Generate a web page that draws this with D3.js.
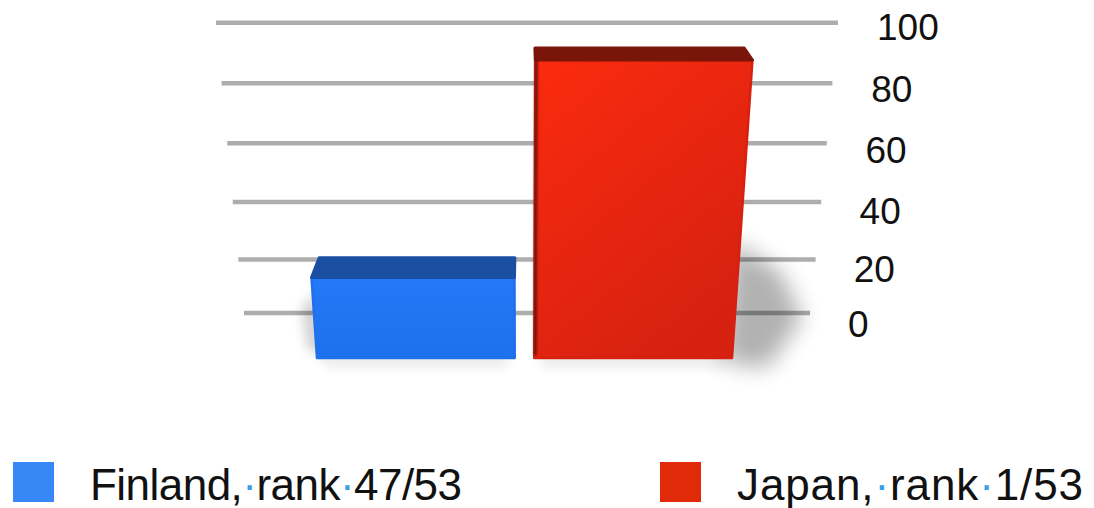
<!DOCTYPE html>
<html><head><meta charset="utf-8">
<script src="https://cdn.jsdelivr.net/npm/d3@7"></script>
<style>html,body{margin:0;padding:0;background:#fff;} svg{display:block;}</style>
</head><body><svg id="chart" width="1094" height="508"></svg>
<script>
const categories = ["Finland, rank 47/53", "Japan, rank 1/53"];
const values = [27, 94];
const tickValues = [0, 20, 40, 60, 80, 100];

const palette = {
  front: [["#2479f8", "#1e70ec"], ["#fb2b0e", "#d62111"]],
  top: ["#1b4fa4", "#7a1509"],
  legend: ["#3887f6", "#e02a0a"]
};

const svg = d3.select("#chart");
const defs = svg.append("defs");
function blur(id, sd) {
  defs.append("filter").attr("id", id).attr("filterUnits", "userSpaceOnUse")
    .attr("x", 0).attr("y", 0).attr("width", 1094).attr("height", 508)
    .append("feGaussianBlur").attr("stdDeviation", sd);
}
blur("soft", 0.6); blur("shadow", 11); blur("shadowS", 6); blur("edge", 1);

// perspective scales
const yBack = d3.scalePow().exponent(1.05).domain([0, 100]).range([313, 22.7]);
const yFront = d3.scalePow().exponent(1.05).domain([0, 100]).range([358, 40]);
const yLabel = d3.scalePow().exponent(1.05).domain([0, 100]).range([337, 40]);
const gridLeft = d3.scaleLinear().domain([0, 100]).range([244, 216]);
const gridRight = d3.scaleLinear().domain([0, 100]).range([810, 838]);
const labelX = d3.scaleLinear().domain([0, 100]).range([848, 877]);
const xBand = d3.scaleBand().domain(categories).range([-207, 208]).paddingInner(0.09).paddingOuter(0);
const CX = 524, K = 0.00033, Y0 = 358;
const proj = (u, y) => CX + u * (1 + K * (Y0 - y));
const VX = 524, VY = -270, DEPTH = 0.964;
const recede = ([x, y]) => [VX + (x - VX) * DEPTH, VY + (y - VY) * DEPTH];
const line = d3.line().curve(d3.curveLinearClosed);

// gridlines
svg.append("g").selectAll("line").data(tickValues).join("line")
  .attr("x1", d => gridLeft(d)).attr("x2", d => gridRight(d))
  .attr("y1", d => yBack(d)).attr("y2", d => yBack(d))
  .attr("stroke", "#adadad").attr("stroke-width", 4.5).attr("filter", "url(#soft)");

// tick labels
svg.append("g").selectAll("text").data(tickValues).join("text")
  .attr("x", d => labelX(d)).attr("y", d => yLabel(d))
  .attr("font-family", "Liberation Sans, Arial, sans-serif").attr("font-size", 37).attr("fill", "#111")
  .text(d => d);

// gradients
categories.forEach((c, i) => {
  const g = defs.append("linearGradient").attr("id", "fg" + i)
    .attr("x1", 0).attr("y1", 0).attr("x2", i ? 0.6 : 0).attr("y2", 1);
  g.append("stop").attr("offset", 0).attr("stop-color", palette.front[i][0]);
  g.append("stop").attr("offset", 1).attr("stop-color", palette.front[i][1]);
});

const bars = categories.map((c, i) => {
  const u0 = xBand(c), u1 = u0 + xBand.bandwidth();
  const yt = yFront(values[i]), yb = yFront(0);
  const front = [[proj(u0, yt), yt], [proj(u1, yt), yt], [proj(u1, yb), yb], [proj(u0, yb), yb]];
  return { c, i, front, top: [recede(front[0]), recede(front[1]), front[1], front[0]] };
});

// shadows
const shadowG = svg.append("g");
bars.forEach(b => {
  const [tl, tr, br, bl] = b.front;
  if (b.i === 1) {
    const ys = yFront(40), xs = proj(xBand(b.c) + xBand.bandwidth(), ys);
    shadowG.append("path").attr("d", line([[xs - 8, ys + 5], [xs + 40, ys + 35], [xs + 62, br[1] - 40], [br[0] + 35, br[1] + 10], [br[0] - 10, br[1] + 4]]))
      .attr("fill", "#000").attr("opacity", 0.3).attr("filter", "url(#shadow)");
  } else {
    shadowG.append("path").attr("d", line([[tl[0] + 5, tl[1] + 15], [tl[0] - 10, tl[1] + 30], [bl[0] - 10, bl[1] - 10], [bl[0] + 10, bl[1]]]))
      .attr("fill", "#000").attr("opacity", 0.18).attr("filter", "url(#shadowS)");
  }
  shadowG.append("path").attr("d", line([[bl[0] + 5, bl[1] - 2], [br[0] - 5, br[1] - 2], [br[0] - 8, br[1] + 8], [bl[0] + 8, bl[1] + 8]]))
    .attr("fill", "#000").attr("opacity", 0.1).attr("filter", "url(#shadowS)");
});

// bars
const barG = svg.append("g");
bars.forEach(b => {
  barG.append("path").attr("d", line(b.front)).attr("fill", `url(#fg${b.i})`)
    .attr("stroke", palette.front[b.i][1]).attr("stroke-width", 2.5).attr("stroke-linejoin", "round");
  barG.append("path").attr("d", line(b.top)).attr("fill", palette.top[b.i])
    .attr("stroke", palette.top[b.i]).attr("stroke-width", 3).attr("stroke-linejoin", "round");
  if (b.i === 1) {
    barG.append("line").attr("x1", b.front[0][0] + 1).attr("y1", b.front[0][1])
      .attr("x2", b.front[3][0] + 1).attr("y2", b.front[3][1] - 3)
      .attr("stroke", "#6e1208").attr("stroke-width", 3).attr("filter", "url(#edge)");
  }
});

// legend
const legendSwatchX = [13, 660], legendTextX = [90, 737], legendTextW = [372, 346];
const lg = svg.append("g");
categories.forEach((c, i) => {
  lg.append("rect").attr("x", legendSwatchX[i]).attr("y", 462).attr("width", 41).attr("height", 40)
    .attr("fill", palette.legend[i]);
  const t = lg.append("text").attr("x", legendTextX[i]).attr("y", 500)
    .attr("textLength", legendTextW[i]).attr("lengthAdjust", "spacing")
    .attr("font-family", "Liberation Sans, Arial, sans-serif").attr("font-size", 44).attr("fill", "#111");
  c.split(" ").forEach((w, k) => {
    if (k > 0) t.append("tspan").attr("fill", "#3a9ee8").text("\u00b7");
    t.append("tspan").text(w);
  });
});
</script></body></html>
